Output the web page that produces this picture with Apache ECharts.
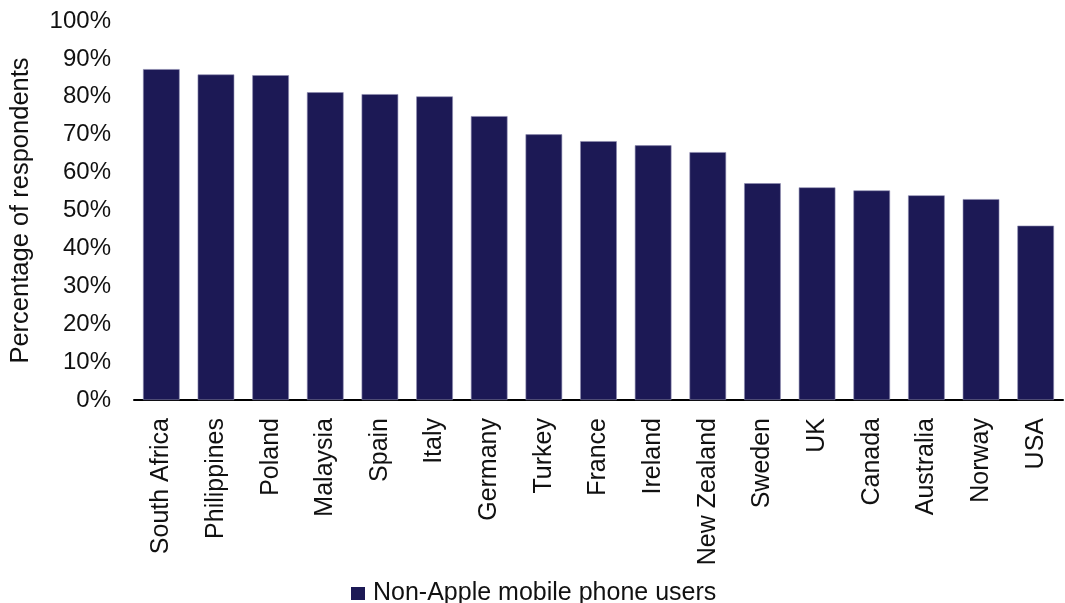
<!DOCTYPE html>
<html>
<head>
<meta charset="utf-8">
<script src="https://cdn.jsdelivr.net/npm/echarts@6/dist/echarts.min.js"></script>
<style>
  html, body { margin: 0; padding: 0; background: #fff; }
  #chart { width: 1065px; height: 603px; }
</style>
</head>
<body>
<div id="chart"></div>
<script>
  const countries = ["South Africa", "Philippines", "Poland", "Malaysia", "Spain", "Italy", "Germany", "Turkey", "France", "Ireland", "New Zealand", "Sweden", "UK", "Canada", "Australia", "Norway", "USA"];
  const nonAppleShare = [87.3, 85.9, 85.7, 81.2, 80.7, 80.1, 74.9, 70.1, 68.3, 67.2, 65.4, 57.2, 56.1, 55.3, 54.0, 53.0, 46.0];
  const seriesName = "Non-Apple mobile phone users";
  const yTitle = "Percentage of respondents";

  const FONT = "Liberation Sans, Arial, sans-serif";
  const INK = "#111";
  const BAR = "#1c1955";

  const chart = echarts.init(document.getElementById("chart"), null, { renderer: "canvas" });
  chart.setOption({
    animation: false,
    textStyle: { fontFamily: FONT, color: INK },
    grid: { left: 133, right: 2, top: 21, bottom: 203, containLabel: false },
    legend: {
      data: [seriesName],
      left: 346,
      top: 576,
      icon: "rect",
      itemWidth: 14,
      itemHeight: 13,
      itemStyle: { borderWidth: 0 },
      textStyle: { fontFamily: FONT, fontSize: 25, color: INK, padding: [0, 0, 0, 3] },
    },
    xAxis: {
      type: "category",
      data: countries,
      axisLine: { lineStyle: { color: "#000", width: 2 } },
      axisTick: { show: false },
      axisLabel: { rotate: 90, margin: 18, fontSize: 25, color: INK, fontFamily: FONT, interval: 0 },
    },
    yAxis: {
      type: "value",
      min: 0,
      max: 100,
      interval: 10,
      name: yTitle,
      nameLocation: "middle",
      nameRotate: 90,
      nameGap: 100,
      nameTextStyle: { fontSize: 25.5, color: INK, fontFamily: FONT },
      axisLine: { show: false },
      axisTick: { show: false },
      splitLine: { show: false },
      axisLabel: { formatter: "{value}%", fontSize: 24, margin: 23, color: INK, fontFamily: FONT },
    },
    series: [{
      name: seriesName,
      type: "bar",
      data: nonAppleShare,
      barCategoryGap: "33%",
      itemStyle: { color: BAR, borderColor: "#8d8bb0", borderWidth: 0.6 },
    }],
  });
</script>
</body>
</html>
